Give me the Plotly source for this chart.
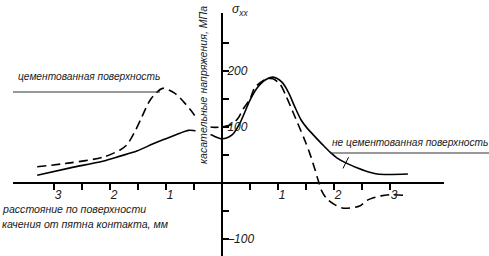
import plotly.graph_objects as go

# ---- data (distance along rolling surface, mm ; shear stress, MPa) ----
x_solid = [-3.30, -2.71, -2.13, -1.82, -1.52, -1.23, -0.98, -0.75, -0.60, -0.45, -0.20, 0.0,
           0.18, 0.32, 0.50, 0.63, 0.77, 0.91, 1.07, 1.18, 1.30, 1.41, 1.52, 1.63, 1.80,
           1.93, 2.05, 2.23, 2.52, 2.77, 3.32]
y_solid = [14, 27, 39, 48, 57, 70, 80, 89, 94, 93, 86, 79,
           86, 107, 148, 170, 184, 189, 180, 163, 136, 113, 98, 86, 68,
           55, 45, 35, 23, 16, 16]

x_dash = [-3.30, -2.71, -2.13, -1.82, -1.70, -1.57, -1.44, -1.27, -1.06, -0.84, -0.65, -0.52,
          -0.39, -0.21, 0.0, 0.18, 0.29, 0.39, 0.50, 0.59, 0.80, 0.91, 1.04, 1.15, 1.27,
          1.38, 1.48, 1.57, 1.66, 1.72, 1.78, 1.87, 2.02, 2.17, 2.46, 2.59, 2.84, 3.00, 3.27]
y_dash = [29, 36, 46, 59, 68, 89, 116, 150, 169, 160, 141, 125,
          107, 100, 100, 105, 116, 134, 150, 171, 186, 186, 176, 154, 126,
          100, 76, 52, 24, 4, -14, -28, -39, -45, -41, -31, -23, -21, -22]

x_tick_vals = [-3, -2.5, -2, -1.5, -1, -0.5, 0.5, 1, 1.5, 2, 2.5, 3]
x_tick_text = ["3", "", "2", "", "1", "", "", "1", "", "2", "", "3"]
y_tick_vals = [250, 200, 150, 100, 50, -50, -100]
y_tick_text = ["", "200", "", "100", "", "", "\u2013100"]

label_left = "цементованная поверхность"
label_right = "не цементованная поверхность"
x_title_1 = "расстояние по поверхности"
x_title_2 = "качения от пятна контакта, мм"
y_title = "касательные напряжения, МПа"
sigma_label = "σ<sub>xx</sub>"

leader_x = [2.16, 2.26]
leader_y = [26, 46]

W, H = 489, 256
FONT = "Liberation Sans, Arial, sans-serif"
TXT = "#1a1a1a"

fig = go.Figure()
fig.add_trace(go.Scatter(x=x_solid, y=y_solid, mode="lines",
                         line=dict(color="black", width=1.6, shape="spline", smoothing=0.8),
                         hoverinfo="skip"))
fig.add_trace(go.Scatter(x=x_dash, y=y_dash, mode="lines",
                         line=dict(color="black", width=1.6, dash="9px,5px", shape="spline", smoothing=0.8),
                         hoverinfo="skip"))
fig.add_trace(go.Scatter(x=leader_x, y=leader_y, mode="lines",
                         line=dict(color="black", width=1), hoverinfo="skip"))

fig.update_layout(
    width=W, height=H, margin=dict(l=0, r=0, t=0, b=0),
    paper_bgcolor="white", plot_bgcolor="white", showlegend=False,
    xaxis=dict(domain=[13 / W, 444 / W], range=[(13 - 222) / 56, (444 - 222) / 56],
               anchor="free", position=1 - 183 / H,
               showline=True, linecolor="black", linewidth=2,
               ticks="outside", ticklen=6, tickwidth=1.5, tickcolor="black",
               tickvals=x_tick_vals, ticktext=x_tick_text,
               ticklabelshift=4, ticklabelstandoff=-5,
               tickfont=dict(family=FONT, size=12, color=TXT, style="italic"),
               showgrid=False, zeroline=False, fixedrange=True),
    yaxis=dict(domain=[0, (H - 13) / H], range=[(183 - 256) / 0.56, (183 - 13) / 0.56],
               anchor="free", position=222 / W, side="right",
               showline=True, linecolor="black", linewidth=2,
               ticks="outside", ticklen=6, tickwidth=1.5, tickcolor="black",
               tickvals=y_tick_vals, ticktext=y_tick_text,
               ticklabelstandoff=-4,
               tickfont=dict(family=FONT, size=12, color=TXT, style="italic"),
               showgrid=False, zeroline=False, fixedrange=True),
)

fig.add_shape(type="line", xref="paper", yref="paper",
              x0=13 / W, x1=160 / W, y0=1 - 92 / H, y1=1 - 92 / H,
              line=dict(color="#333", width=1))
fig.add_shape(type="line", xref="paper", yref="paper",
              x0=330 / W, x1=1.0, y0=1 - 153 / H, y1=1 - 153 / H,
              line=dict(color="#333", width=1))

def ann(text, x, y, xanchor="left", size=10.2, angle=0, bg=None):
    fig.add_annotation(text=text, xref="paper", yref="paper", x=x, y=y,
                       xanchor=xanchor, yanchor="middle", showarrow=False,
                       textangle=angle, bgcolor=bg, borderpad=1,
                       font=dict(family=FONT, size=size, color=TXT, style="italic"))

ann(label_left, 16 / W, 1 - 76 / H)
ann(label_right, 330 / W, 1 - 142 / H)
ann(x_title_1, 0 / W, 1 - 209 / H, size=10.6)
ann(x_title_2, 0 / W, 1 - 224 / H, size=10.6)
ann(y_title, 203 / W, 1 - 85 / H, xanchor="center", angle=-90, bg="white", size=10.6)
ann(sigma_label, 240 / W, 1 - 10 / H, xanchor="center", size=12)

fig.write_html("out.html",
               config={"displayModeBar": False, "staticPlot": True},
               post_script="document.body.style.margin='0px';document.body.style.overflow='hidden';")
